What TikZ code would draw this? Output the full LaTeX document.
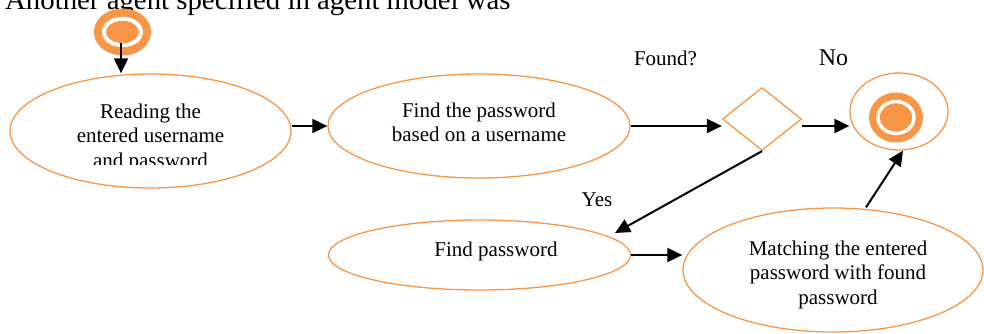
\documentclass[tikz,border=0pt]{standalone}
\usepackage{fontspec}
\setmainfont{Liberation Serif}
\usetikzlibrary{shapes.geometric,arrows.meta,calc}
\definecolor{aorange}{HTML}{F79646}
\begin{document}
\begin{tikzpicture}[x=1pt,y=-1pt,
  state/.style={ellipse,draw=aorange,line width=1.3pt,inner sep=0pt},
  txt/.style={align=center,font=\fontsize{21}{24.5}\selectfont,inner sep=0pt},
  arr/.style={-{Triangle[length=15pt,width=14pt]},line width=2pt,black},
  disk/.style={ellipse,fill=aorange,inner sep=0pt},
  ring/.style={ellipse,fill=aorange,draw=white,inner sep=0pt},
]
\useasboundingbox (0,0) rectangle (984,334);
\clip (0,0) rectangle (984,334);

% cut-off caption at the top
\node[anchor=base west,font=\fontsize{28.8}{30}\selectfont,inner sep=0pt] (title) at (5,10) {Another agent specified in agent model was};

% start node
\node[disk,minimum width=57pt,minimum height=47pt] (s) at (122.5,32) {};
\node[ring,line width=4pt,minimum width=37pt,minimum height=26.5pt] (sr) at (122.5,32) {};

% activity ellipses
\node[state,minimum width=281pt,minimum height=114pt] (e1) at (150.5,131) {};
\node[state,minimum width=302pt,minimum height=104pt] (e2) at (479,126) {};
\node[state,minimum width=302pt,minimum height=70pt] (e3) at (479.5,255) {};
\node[state,minimum width=300pt,minimum height=124pt] (e4) at (833,270) {};

% decision
\node[diamond,draw=aorange,line width=1.3pt,inner sep=0pt,minimum width=79pt,minimum height=63pt] (d) at (762,119) {};

% end node
\node[state,minimum width=98pt,minimum height=77pt] (f) at (899,111.5) {};
\node[disk,minimum width=54pt,minimum height=50pt] (fd) at (896,117.5) {};
\node[ring,line width=3.5pt,minimum width=36pt,minimum height=32pt] (fr) at (896,117.5) {};

% texts
\begin{scope}
\clip (0,0) rectangle (984,164);
\node[txt] (t1) at (150.5,137.6) {Reading the\\entered username\\and password};
\end{scope}
\node[txt] (t2) at (479,122.5) {Find the password\\based on a username};
\node[txt] (t3) at (496,251) {Find password};
\node[txt] (t4) at (838,274.5) {Matching the entered\\password with found\\password};
\node[txt] (found) at (665.5,58) {Found?};
\node[txt,font=\fontsize{24}{28}\selectfont] (no) at (833.5,58) {No};
\node[txt] (yes) at (597,200) {Yes};

% connectors
\coordinate (sfoot) at (121,43);
\draw[arr] (sfoot) -- (sfoot |- e1.north);
\draw[arr] (e1.east |- e2.west) -- (e2.west);
\draw[arr] (e2.east) -- (e2.east -| d.west);
\draw[arr] (e2.east -| d.east) -- (e2.east -| f.west);
\coordinate (yestip) at (615,233);
\draw[arr] (d.south) -- (yestip);
\draw[arr] (e3.east) -- (e3.east -| e4.west);
\draw[arr] ([xshift=33pt]e4.north) -- ([xshift=4pt]f.south);
\end{tikzpicture}
\end{document}
